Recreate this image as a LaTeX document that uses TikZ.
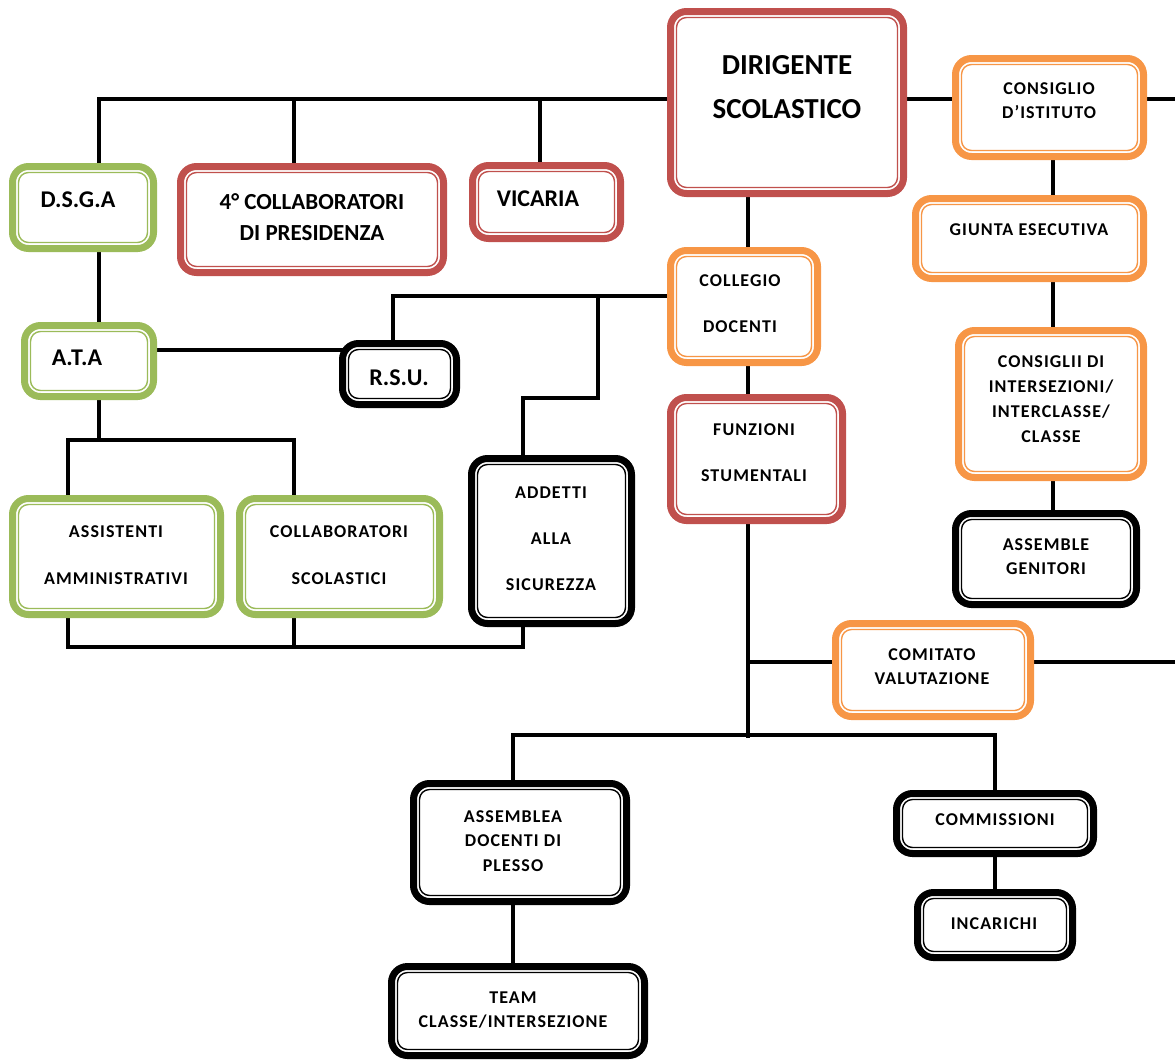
\documentclass[tikz,border=0pt]{standalone}
\usepackage{fontspec}
\setmainfont{Carlito}
\newfontfamily\smf{Carlito}[LetterSpace=6]
\usetikzlibrary{calc}
\pgfdeclarelayer{bg}\pgfsetlayers{bg,main}
\definecolor{cred}{HTML}{C0504D}
\definecolor{cgreen}{HTML}{9BBB59}
\definecolor{corange}{HTML}{F79646}
\tikzset{
  boxsty/.style={draw, line width=7pt, rounded corners=16pt, fill=white, inner sep=0pt, outer sep=0pt},
  innerline/.style={line width=1.4pt, rounded corners=10pt},
  conn/.style={line width=3.5pt, black},
  bigtxt/.style={font=\bfseries\fontsize{24}{32}\selectfont, align=center, inner sep=0pt},
  smtxt/.style={font=\smf\bfseries\fontsize{18}{24}\selectfont, align=center, inner sep=0pt},
}
\newcommand\obox[6]{%
  \node[boxsty, draw=#6, minimum width={#4-#2-7}, minimum height={#5-#3-7}] (#1) at ({(#2+#4)/2},{(#3+#5)/2}) {};
  \draw[innerline, #6] ($(#1.north west)+(6,6)$) rectangle ($(#1.south east)+(-6,-6)$);
}
\begin{document}
\begin{tikzpicture}[x=1pt,y=-1pt]
\useasboundingbox (0,0) rectangle (1175,1061);

% boxes
\obox{dir}{667}{8}{907}{197}{cred}
\obox{cons}{952}{55}{1147}{160}{corange}
\obox{giu}{912}{195}{1147}{282}{corange}
\obox{csi}{955}{327}{1147}{481}{corange}
\obox{asg}{952}{510}{1140}{608}{black}
\obox{col}{667}{247}{821}{366}{corange}
\obox{fun}{667}{394}{846}{524}{cred}
\obox{com}{832}{620}{1034}{720}{corange}
\obox{dsga}{9}{163}{157}{252}{cgreen}
\obox{coll}{177}{163}{447}{276}{cred}
\obox{vic}{469}{162}{624}{242}{cred}
\obox{ata}{21}{322}{157}{400}{cgreen}
\obox{rsu}{339}{340}{460}{408}{black}
\obox{ass}{9}{495}{224}{618}{cgreen}
\obox{csc}{236}{495}{443}{618}{cgreen}
\obox{add}{468}{455}{635}{627}{black}
\obox{asd}{410}{780}{630}{905}{black}
\obox{team}{388}{963}{648}{1059}{black}
\obox{comm}{893}{790}{1097}{857}{black}
\obox{inc}{914}{889}{1076}{961}{black}

% texts
\node[bigtxt, font=\bfseries\fontsize{29}{44}\selectfont] (dirt) at (787,87) {DIRIGENTE\\SCOLASTICO};
\node[smtxt] (const) at (1049,101) {CONSIGLIO\\D’ISTITUTO};
\node[smtxt] (giut) at (1029,230) {GIUNTA ESECUTIVA};
\node[smtxt, font=\smf\bfseries\fontsize{18}{25}\selectfont] (csit) at (1051,399) {CONSIGLII DI\\INTERSEZIONI/\\INTERCLASSE/\\CLASSE};
\node[smtxt] (asgt) at (1046,557) {ASSEMBLE\\GENITORI};
\node[smtxt, font=\smf\bfseries\fontsize{18}{46}\selectfont] (colt) at (740,304) {COLLEGIO\\DOCENTI};
\node[smtxt, font=\smf\bfseries\fontsize{18}{46}\selectfont] (funt) at (754,453) {FUNZIONI\\STUMENTALI};
\node[smtxt] (comt) at (932,667) {COMITATO\\VALUTAZIONE};
\node[bigtxt] (dsgat) at (78,200) {D.S.G.A};
\node[bigtxt, font=\bfseries\fontsize{23}{31}\selectfont] (collt) at (312,217) {4° COLLABORATORI\\DI PRESIDENZA};
\node[bigtxt] (vict) at (538,199) {VICARIA};
\node[bigtxt] (atat) at (77,358) {A.T.A};
\node[bigtxt] (rsut) at (399,378) {R.S.U.};
\node[smtxt, font=\smf\bfseries\fontsize{18}{47}\selectfont] (asst) at (116,555) {ASSISTENTI\\AMMINISTRATIVI};
\node[smtxt, font=\smf\bfseries\fontsize{18}{47}\selectfont] (csct) at (339,555) {COLLABORATORI\\SCOLASTICI};
\node[smtxt, font=\smf\bfseries\fontsize{18}{46}\selectfont] (addt) at (551,539) {ADDETTI\\ALLA\\SICUREZZA};
\node[smtxt, font=\smf\bfseries\fontsize{18}{24.5}\selectfont] (asdt) at (513,841) {ASSEMBLEA\\DOCENTI DI\\PLESSO};
\node[smtxt] (teamt) at (513,1010) {TEAM\\CLASSE/INTERSEZIONE};
\node[smtxt] (commt) at (995,820) {COMMISSIONI};
\node[smtxt] (inct) at (994,924) {INCARICHI};

% connectors
\begin{pgfonlayer}{bg}
\coordinate (jt) at (99,99);
\coordinate (b1) at (294,99);
\coordinate (b2) at (540,99);
\coordinate (rend) at (1175,99);
\draw[conn] (dsga.north -| jt) -- (jt) -- (jt -| dir.west);
\draw[conn] (b1) -- (b1 |- coll.north);
\draw[conn] (b2) -- (b2 |- vic.north);
\draw[conn] (dir.east |- jt) -- (cons.west |- jt);
\draw[conn] (cons.east |- jt) -- (rend);
\coordinate (cx) at (1053,0);
\draw[conn] (cons.south -| cx) -- (giu.north -| cx);
\draw[conn] (giu.south -| cx) -- (csi.north -| cx);
\draw[conn] (csi.south -| cx) -- (asg.north -| cx);
\coordinate (vx) at (748,0);
\draw[conn] (dir.south -| vx) -- (col.north -| vx);
\draw[conn] (col.south -| vx) -- (fun.north -| vx);
\coordinate (j7) at (748,738);
\draw[conn] (fun.south -| vx) -- (j7);
\coordinate (j6) at (748,662);
\coordinate (rend2) at (1175,662);
\draw[conn] (j6) -- (com.west |- j6);
\draw[conn] (com.east |- j6) -- (rend2);
\coordinate (la) at (513,735);
\coordinate (lb) at (995,735);
\draw[conn] (asd.north -| la) -- (la) -- (lb) -- (comm.north -| lb);
\draw[conn] (asd.south -| la) -- (team.north -| la);
\draw[conn] (comm.south -| lb) -- (inc.north -| lb);
\coordinate (c1) at (393,296);
\coordinate (c2) at (598,296);
\coordinate (c3) at (598,398);
\coordinate (c4) at (523,398);
\draw[conn] (col.west |- c1) -- (c1) -- (c1 |- rsu.north);
\draw[conn] (c2) -- (c3) -- (c4) -- (c4 |- add.north);
\coordinate (ar) at (0,350);
\draw[conn] (ata.east |- ar) -- (rsu.west |- ar);
\draw[conn] (dsga.south -| jt) -- (ata.north -| jt);
\coordinate (d0) at (99,440);
\coordinate (d1) at (68,440);
\coordinate (d2) at (294,440);
\draw[conn] (ata.south -| d0) -- (d0);
\draw[conn] (d1 |- ass.north) -- (d1) -- (d2) -- (d2 |- csc.north);
\coordinate (e1) at (68,647);
\coordinate (e2) at (294,647);
\coordinate (e3) at (523,647);
\draw[conn] (ass.south -| e1) -- (e1) -- (e3) -- (e3 |- add.south);
\draw[conn] (csc.south -| e2) -- (e2);
\end{pgfonlayer}
\end{tikzpicture}
\end{document}
